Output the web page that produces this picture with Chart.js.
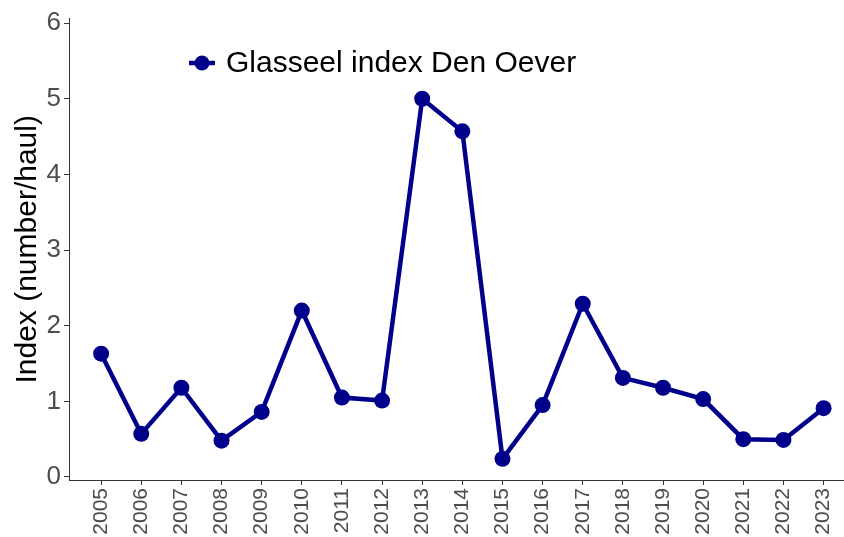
<!DOCTYPE html>
<html>
<head>
<meta charset="utf-8">
<script src="https://cdn.jsdelivr.net/npm/chart.js@4"></script>
<style>
  html, body { margin: 0; padding: 0; background: #fff; overflow: hidden; }
  /* a bit wider than the window so the panel runs to the right edge */
  #wrap { width: 852px; height: 537px; }
</style>
</head>
<body>
<div id="wrap"><canvas id="chart"></canvas></div>
<script>
const years = [2005, 2006, 2007, 2008, 2009, 2010, 2011, 2012, 2013, 2014,
               2015, 2016, 2017, 2018, 2019, 2020, 2021, 2022, 2023];
const indexValues = [1.63, 0.57, 1.18, 0.48, 0.86, 2.20, 1.05, 1.01, 5.00, 4.57,
                     0.24, 0.95, 2.29, 1.31, 1.18, 1.03, 0.50, 0.49, 0.91];
const yTicks = [0, 1, 2, 3, 4, 5, 6];
const seriesName = 'Glasseel index Den Oever';
const yTitle = 'Index (number/haul)';

const navy = '#00008B';
const axisColor = '#333333';
const tickColor = '#4d4d4d';
const fontFamily = '"Liberation Sans", Arial, sans-serif';

// legend drawn inside the panel, like ggplot's legend.position
const insideLegend = {
  id: 'insideLegend',
  afterDraw(chart) {
    const ctx = chart.ctx;
    const x = 189, y = 63;
    ctx.save();
    ctx.strokeStyle = navy;
    ctx.lineWidth = 4.5;
    ctx.beginPath();
    ctx.moveTo(x, y);
    ctx.lineTo(x + 26, y);
    ctx.stroke();
    ctx.fillStyle = navy;
    ctx.beginPath();
    ctx.arc(x + 13, y, 7.5, 0, Math.PI * 2);
    ctx.fill();
    ctx.fillStyle = '#000';
    ctx.font = '30px ' + fontFamily;
    ctx.textBaseline = 'middle';
    ctx.fillText(seriesName, x + 37, y + 1);
    ctx.restore();
  }
};

new Chart(document.getElementById('chart'), {
  type: 'line',
  data: {
    datasets: [{
      label: seriesName,
      data: years.map((yr, i) => ({ x: yr, y: indexValues[i] })),
      borderColor: navy,
      backgroundColor: navy,
      borderWidth: 4.5,
      pointRadius: 8,
      pointHoverRadius: 8,
      pointBorderWidth: 0,
      tension: 0
    }]
  },
  options: {
    responsive: true,
    maintainAspectRatio: false,
    animation: false,
    layout: { padding: { top: 14, right: 0, left: 0, bottom: 0 } },
    plugins: { legend: { display: false }, tooltip: { enabled: false } },
    scales: {
      x: {
        type: 'linear',
        min: 2004.2,
        max: 2023.5,
        afterBuildTicks: (scale) => { scale.ticks = years.map(v => ({ value: v })); },
        afterFit: (scale) => { scale.height = 57; },
        grid: { display: true, drawOnChartArea: false, drawTicks: true, tickLength: 5, color: axisColor },
        border: { display: true, color: axisColor, width: 1 },
        ticks: {
          minRotation: 90,
          maxRotation: 90,
          padding: 3,
          color: tickColor,
          font: { size: 21, family: fontFamily },
          callback: (v) => String(v)
        }
      },
      y: {
        min: -0.04,
        max: 6.06,
        afterBuildTicks: (scale) => { scale.ticks = yTicks.map(v => ({ value: v })); },
        afterFit: (scale) => { scale.width = 69; },
        grid: { display: true, drawOnChartArea: false, drawTicks: true, tickLength: 5, color: axisColor },
        border: { display: true, color: axisColor, width: 1 },
        title: {
          display: true,
          text: yTitle,
          color: '#000',
          font: { size: 30, family: fontFamily },
          padding: { top: 10, bottom: 0 }
        },
        ticks: {
          padding: 3,
          color: tickColor,
          font: { size: 26, family: fontFamily },
          callback: (v) => String(v)
        }
      }
    }
  },
  plugins: [insideLegend]
});
</script>
</body>
</html>
